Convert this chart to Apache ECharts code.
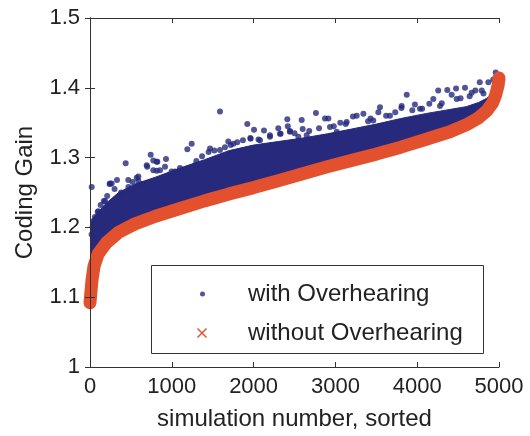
<!DOCTYPE html>
<html>
<head>
<meta charset="utf-8">
<title>Coding Gain</title>
<script src="https://cdn.jsdelivr.net/npm/echarts@6/dist/echarts.min.js"></script>
<style>
  html, body { margin: 0; padding: 0; background: #fff; }
  #chart { width: 530px; height: 436px; }
</style>
</head>
<body>
<div id="chart"></div>
<script>
// sample positions along the sorted simulation axis
const simIdx = [0, 10, 25, 50, 100, 200, 350, 550, 800, 1100, 1400, 1700, 2000, 2300,
  2600, 2900, 3200, 3500, 3800, 4100, 4400, 4600, 4750, 4850, 4920, 4960, 4990, 5000];
// without overhearing (red band, centre line)
const withoutGain = [1.092, 1.106, 1.125, 1.145, 1.162, 1.178, 1.193, 1.205, 1.216, 1.227,
  1.238, 1.248, 1.257, 1.267, 1.277, 1.287, 1.296, 1.305, 1.315, 1.326, 1.337, 1.347,
  1.357, 1.367, 1.378, 1.39, 1.404, 1.414];
// with overhearing: top of the dense blue cloud
const withTop = [1.2, 1.205, 1.21, 1.215, 1.222, 1.235, 1.25, 1.262, 1.272, 1.285, 1.297,
  1.31, 1.318, 1.323, 1.328, 1.334, 1.341, 1.348, 1.356, 1.363, 1.369, 1.373, 1.379,
  1.385, 1.393, 1.402, 1.41, 1.414];
// with overhearing: single points on the rough edge of the cloud and above it
const withDots = [[20,1.19],[21,1.258],[41,1.209],[60,1.215],[61,1.2],[95,1.222],[102,1.223],
  [130,1.232],[170,1.238],[183,1.238],[210,1.245],[240,1.262],[245,1.263],[265,1.263],
  [300,1.255],[330,1.268],[380,1.25],[436,1.292],[468,1.268],[470,1.258],[520,1.265],
  [571,1.271],[591,1.267],[591,1.273],[640,1.262],[693,1.289],[700,1.287],[742,1.304],
  [774,1.296],[774,1.282],[815,1.281],[815,1.294],[823,1.294],[856,1.282],[917,1.287],
  [929,1.298],[980,1.275],[998,1.28],[1040,1.28],[1100,1.285],[1161,1.278],[1190,1.312],
  [1243,1.32],[1284,1.289],[1300,1.295],[1370,1.302],[1450,1.308],[1467,1.313],[1520,1.31],
  [1589,1.366],[1589,1.311],[1650,1.315],[1691,1.323],[1720,1.318],[1752,1.32],[1800,1.322],
  [1870,1.325],[1923,1.348],[1960,1.328],[1964,1.327],[2005,1.34],[2060,1.326],[2078,1.325],
  [2127,1.339],[2200,1.33],[2200,1.332],[2302,1.342],[2323,1.334],[2330,1.334],[2412,1.355],
  [2418,1.345],[2444,1.338],[2445,1.337],[2500,1.335],[2547,1.33],[2588,1.354],[2600,1.341],
  [2649,1.332],[2680,1.338],[2762,1.364],[2800,1.342],[2873,1.356],[2914,1.356],[2934,1.344],
  [2980,1.345],[3016,1.337],[3060,1.35],[3126,1.348],[3138,1.351],[3215,1.359],[3260,1.36],
  [3342,1.363],[3400,1.352],[3430,1.356],[3463,1.353],[3525,1.365],[3545,1.372],[3620,1.36],
  [3667,1.36],[3732,1.365],[3807,1.371],[3810,1.374],[3872,1.39],[3940,1.368],[3972,1.376],
  [4034,1.37],[4060,1.37],[4148,1.377],[4197,1.384],[4257,1.396],[4279,1.374],[4300,1.378],
  [4368,1.397],[4421,1.39],[4475,1.399],[4483,1.384],[4530,1.385],[4584,1.4],[4641,1.388],
  [4666,1.393],[4711,1.396],[4765,1.408],[4789,1.396],[4810,1.392],[4870,1.408],[4930,1.412],
  [4960,1.422]];
const xTicks = [0, 1000, 2000, 3000, 4000, 5000];

const NAVY = '#26297c';
const RED = '#e3502e';
const FONT = 'Liberation Sans';
const xIcon = 'path://M0,1L1,0L5,4L9,0L10,1L6,5L10,9L9,10L5,6L1,10L0,9L4,5Z';

const chart = echarts.init(document.getElementById('chart'), null, { renderer: 'canvas' });

const tick = { inside: true, length: 5, lineStyle: { color: '#333' } };
const line = { lineStyle: { color: '#333', width: 1 } };

const option = {
  animation: false,
  grid: { left: 90, right: 31, top: 18, bottom: 65 },
  xAxis: [{
    type: 'value', min: xTicks[0], max: xTicks[xTicks.length - 1], interval: 1000,
    position: 'bottom', z: 10,
    axisLine: line, axisTick: tick, splitLine: { show: false },
    axisLabel: { fontSize: 22, color: '#222', fontFamily: FONT, margin: 9,
      formatter: v => String(v) },
    name: 'simulation number, sorted', nameLocation: 'middle', nameGap: 40,
    nameTextStyle: { fontSize: 24, color: '#222', fontFamily: FONT }
  }, {
    type: 'value', min: 0, max: 5000, interval: 1000, position: 'top', z: 10,
    axisLine: line, axisTick: tick, splitLine: { show: false }, axisLabel: { show: false }
  }],
  yAxis: [{
    type: 'value', min: 1, max: 1.5, interval: 0.1, position: 'left', z: 10,
    axisLine: line, axisTick: tick, splitLine: { show: false },
    axisLabel: { fontSize: 22, color: '#222', fontFamily: FONT, margin: 10 },
    name: 'Coding Gain', nameLocation: 'middle', nameGap: 53,
    nameTextStyle: { fontSize: 24, color: '#222', fontFamily: FONT }
  }, {
    type: 'value', min: 1, max: 1.5, interval: 0.1, position: 'right', z: 10,
    axisLine: line, axisTick: tick, splitLine: { show: false }, axisLabel: { show: false }
  }],
  legend: [{
    data: [{ name: 'with Overhearing', icon: 'circle' }],
    left: 200, top: 282, padding: 0, itemWidth: 5, itemHeight: 5, z: 60,
    selectedMode: false,
    textStyle: { fontSize: 24, color: '#222', fontFamily: FONT, padding: [0, 0, 0, 38] }
  }, {
    data: [{ name: 'without Overhearing', icon: xIcon }],
    left: 197, top: 321, padding: 0, itemWidth: 10, itemHeight: 10, z: 60,
    selectedMode: false,
    textStyle: { fontSize: 24, color: '#222', fontFamily: FONT, padding: [0, 0, 0, 36] }
  }],
  graphic: [{
    type: 'rect', z: 50,
    shape: { x: 151.5, y: 265.5, width: 332, height: 88 },
    style: { fill: '#fff', stroke: '#333', lineWidth: 1 }
  }],
  series: [{
    // dense blue cloud, filled down to the axis
    name: 'cloud', type: 'line', symbol: 'none', silent: true, z: 1,
    data: simIdx.map((x, i) => [x, withTop[i]]),
    lineStyle: { color: NAVY, width: 1 },
    areaStyle: { color: NAVY, opacity: 1, origin: 'start' }
  }, {
    // white mask below the red band
    name: 'mask', type: 'line', symbol: 'none', silent: true, z: 2,
    data: simIdx.map((x, i) => [x, withoutGain[i]]),
    lineStyle: { color: '#fff', width: 0 },
    areaStyle: { color: '#fff', opacity: 1, origin: 'start' }
  }, {
    name: 'with Overhearing', type: 'scatter', z: 3,
    symbol: 'circle', symbolSize: 6,
    itemStyle: { color: NAVY },
    data: withDots
  }, {
    name: 'without Overhearing', type: 'line', symbol: 'none', z: 4,
    color: RED, itemStyle: { color: RED },
    data: simIdx.map((x, i) => [x, withoutGain[i]]),
    lineStyle: { color: RED, width: 13, cap: 'round', join: 'round' }
  }]
};

chart.setOption(option);
</script>
</body>
</html>
